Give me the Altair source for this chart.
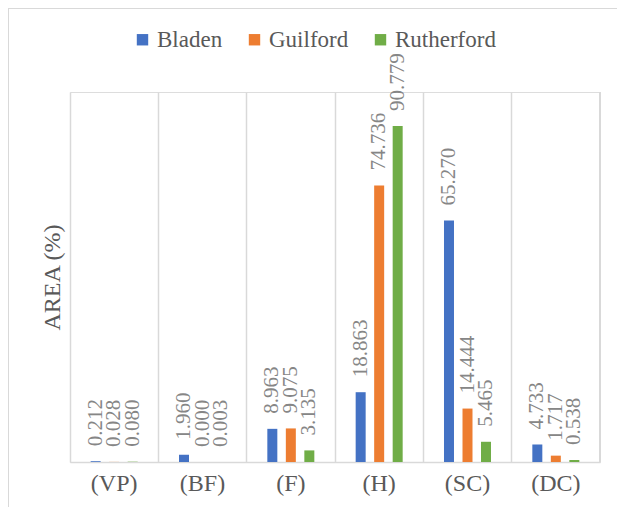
import altair as alt
import pandas as pd

categories = ["(VP)", "(BF)", "(F)", "(H)", "(SC)", "(DC)"]
series = ["Bladen", "Guilford", "Rutherford"]
bladen = [0.212, 1.960, 8.963, 18.863, 65.270, 4.733]
guilford = [0.028, 0.000, 9.075, 74.736, 14.444, 1.717]
rutherford = [0.080, 0.003, 3.135, 90.779, 5.465, 0.538]
colors = ["#4472C4", "#ED7D31", "#70AD47"]

rows = []
for name, vals in zip(series, [bladen, guilford, rutherford]):
    for c, v in zip(categories, vals):
        rows.append({"cat": c, "series": name, "value": v})
df = pd.DataFrame(rows)

W, H = 530, 370
FONT = "'Liberation Serif', 'Times New Roman', serif"

x = alt.X("cat:N", sort=categories, title=None,
          scale=alt.Scale(paddingInner=0, paddingOuter=0),
          axis=alt.Axis(labelAngle=0, labelFont=FONT, labelFontSize=24,
                        labelColor="#595959", labelPadding=9, ticks=False,
                        domainColor="#d9d9d9", domainWidth=1.5,
                        grid=True, gridColor="#d9d9d9", gridWidth=1.5,
                        bandPosition=0))
xo = alt.XOffset("series:N", sort=series,
                 scale=alt.Scale(paddingInner=0.227, paddingOuter=1))
y = alt.Y("value:Q", title="AREA (%)",
          scale=alt.Scale(domain=[0, 100], nice=False),
          axis=alt.Axis(labels=False, ticks=False, domain=False, grid=False,
                        titleFont=FONT, titleFontSize=24, titleFontWeight="normal",
                        titleColor="#595959", titlePadding=6))
color = alt.Color("series:N", sort=series,
                  scale=alt.Scale(domain=series, range=colors),
                  legend=alt.Legend(title=None, orient="none", direction="horizontal",
                                    legendX=61, legendY=-64,
                                    symbolType="square", symbolSize=130,
                                    symbolStrokeWidth=0,
                                    labelFont=FONT, labelFontSize=23,
                                    labelColor="#595959", labelOffset=3,
                                    columnPadding=20, padding=0))

bars = alt.Chart(df).mark_bar(size=10).encode(x=x, xOffset=xo, y=y, color=color)
labels = alt.Chart(df).mark_text(angle=270, align="left", baseline="middle",
                                 dx=15, font=FONT, fontSize=21,
                                 color="#868686").encode(
    x=x, xOffset=xo, y=y, text=alt.Text("value:Q", format=".3f"))

right_line = alt.Chart(df).mark_rule(color="#d9d9d9", strokeWidth=1.5).encode(
    x=alt.value(W), y=alt.value(0), y2=alt.value(H))
top_border = alt.Chart(df).mark_rule(color="#d9d9d9", strokeWidth=1).encode(
    x=alt.value(-61.5), x2=alt.value(W + 17), y=alt.value(-83.5))
left_border = alt.Chart(df).mark_rule(color="#d9d9d9", strokeWidth=1).encode(
    x=alt.value(-61.5), y=alt.value(-83.5), y2=alt.value(H + 45))

chart = alt.layer(bars, labels, right_line, top_border, left_border).properties(
    width=W, height=H,
    autosize=alt.AutoSizeParams(type="none"),
    padding={"left": 62, "top": 84, "right": 17, "bottom": 45},
).configure_view(stroke=None).configure(font=FONT).configure_text(font=FONT)

chart.save("out.html", embed_options={"renderer": "svg", "actions": False})
